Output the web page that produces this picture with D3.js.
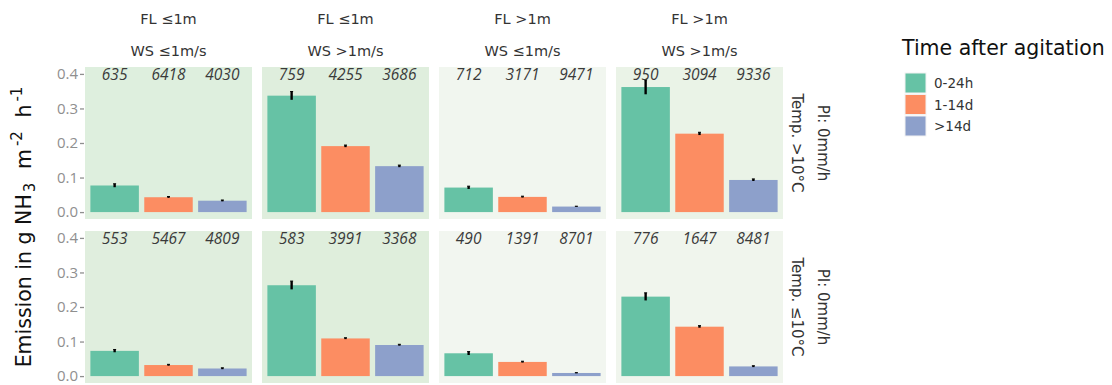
<!DOCTYPE html>
<html>
<head>
<meta charset="utf-8">
<script src="https://cdn.jsdelivr.net/npm/d3@7"></script>
<style>
  html, body { margin: 0; padding: 0; background: #ffffff; }
  svg { display: block; }
</style>
</head>
<body>
<svg id="chart" width="1112" height="385"></svg>
<script>
// ---------------- data ----------------
const flLabels = ["FL \u22641m", "FL \u22641m", "FL >1m", "FL >1m"];
const wsLabels = ["WS \u22641m/s", "WS >1m/s", "WS \u22641m/s", "WS >1m/s"];
const tempLabels = ["Temp. >10\u00b0C", "Temp. \u226410\u00b0C"];
const piLabels = ["PI: 0mm/h", "PI: 0mm/h"];
const times = ["0-24h", "1-14d", ">14d"];
const colors = ["#66c2a5", "#fc8d62", "#8da0cb"];
const yTicks = [0.0, 0.1, 0.2, 0.3, 0.4];

// emission means per panel (row 1: Temp >10°C, row 2: Temp ≤10°C)
const emissionRow1 = [
  [0.077, 0.043, 0.033],
  [0.337, 0.191, 0.133],
  [0.071, 0.044, 0.016],
  [0.362, 0.227, 0.093]
];
const emissionRow2 = [
  [0.073, 0.032, 0.022],
  [0.263, 0.109, 0.090],
  [0.066, 0.041, 0.009],
  [0.230, 0.143, 0.028]
];
// half-widths of error bars
const errorRow1 = [
  [0.005, 0.002, 0.002],
  [0.012, 0.003, 0.003],
  [0.004, 0.002, 0.001],
  [0.021, 0.004, 0.003]
];
const errorRow2 = [
  [0.004, 0.002, 0.002],
  [0.012, 0.002, 0.002],
  [0.005, 0.002, 0.001],
  [0.011, 0.003, 0.002]
];
// number of observations per bar
const countsRow1 = [
  [635, 6418, 4030],
  [759, 4255, 3686],
  [712, 3171, 9471],
  [950, 3094, 9336]
];
const countsRow2 = [
  [553, 5467, 4809],
  [583, 3991, 3368],
  [490, 1391, 8701],
  [776, 1647, 8481]
];
const panelBgRow1 = ["#deefde", "#dfeedd", "#f1f6ef", "#eaf3e7"];
const panelBgRow2 = ["#e0eede", "#dfeedc", "#f2f6f0", "#f0f5ed"];

const rows = [
  { emission: emissionRow1, error: errorRow1, counts: countsRow1, bg: panelBgRow1 },
  { emission: emissionRow2, error: errorRow2, counts: countsRow2, bg: panelBgRow2 }
];

// ---------------- layout ----------------
const svg = d3.select("#chart");
const font = "'Open Sans', sans-serif";
const font2 = "'DejaVu Sans', sans-serif";

const xPanel = d3.scaleBand().domain(d3.range(4)).range([85, 783]).paddingInner(0.0565);
const rowTops = [67, 231];
const panelH = 152;
const xInner = d3.scaleBand().domain(times).range([0, xPanel.bandwidth()])
  .paddingInner(0.1).paddingOuter(0.1);

rows.forEach((row, r) => {
  const y = d3.scaleLinear().domain([-0.02, 0.42]).range([rowTops[r] + panelH, rowTops[r]]);

  // y axis
  const axis = d3.axisLeft(y).tickValues(yTicks).tickFormat(d3.format(".1f")).tickSize(4).tickPadding(2);
  const ga = svg.append("g").attr("transform", `translate(${xPanel(0) - 1},0)`).call(axis);
  ga.select(".domain").remove();
  ga.selectAll(".tick line").attr("stroke", "#8f8f8f").attr("stroke-width", 1.3);
  ga.selectAll(".tick text").attr("fill", "#8f8f8f").style("font-family", font).style("font-size", "15px");

  for (let c = 0; c < 4; c++) {
    const g = svg.append("g").attr("transform", `translate(${xPanel(c)},0)`);
    g.append("rect").attr("x", 0).attr("y", rowTops[r]).attr("width", xPanel.bandwidth())
      .attr("height", panelH).attr("fill", row.bg[c]);

    times.forEach((t, i) => {
      const v = row.emission[c][i];
      const cx = xInner(t) + xInner.bandwidth() / 2;
      g.append("rect")
        .attr("x", xInner(t)).attr("width", xInner.bandwidth())
        .attr("y", y(v)).attr("height", y(0) - y(v))
        .attr("fill", colors[i]);
      const e = row.error[c][i];
      g.append("line")
        .attr("x1", cx).attr("x2", cx)
        .attr("y1", y(v - e)).attr("y2", y(v + e))
        .attr("stroke", "#000").attr("stroke-width", 2.4);
      g.append("line")
        .attr("x1", cx - 1.5).attr("x2", cx + 1.5)
        .attr("y1", y(v + e)).attr("y2", y(v + e))
        .attr("stroke", "#000").attr("stroke-width", 1);
      g.append("text")
        .attr("x", cx).attr("y", y(0.4))
        .attr("text-anchor", "middle").attr("dominant-baseline", "central")
        .style("font-family", font).style("font-size", "15.5px").style("font-style", "italic")
        .attr("fill", "#3a3a3a")
        .text(row.counts[c][i]);
    });
  }

  // right strip
  const cy = rowTops[r] + panelH / 2;
  svg.append("text").attr("transform", `translate(797,${cy}) rotate(90)`)
    .attr("text-anchor", "middle").attr("dominant-baseline", "central")
    .style("font-family", font2).style("font-size", "15px").attr("fill", "#333")
    .text(tempLabels[r]);
  svg.append("text").attr("transform", `translate(823,${cy}) rotate(90)`)
    .attr("text-anchor", "middle").attr("dominant-baseline", "central")
    .style("font-family", font2).style("font-size", "15px").attr("fill", "#333")
    .text(piLabels[r]);
});

// top strips
for (let c = 0; c < 4; c++) {
  const cx = xPanel(c) + xPanel.bandwidth() / 2;
  svg.append("text").attr("x", cx).attr("y", 24).attr("text-anchor", "middle")
    .style("font-family", font2).style("font-size", "14.5px")
    .attr("fill", "#333").text(flLabels[c]);
  svg.append("text").attr("x", cx).attr("y", 56).attr("text-anchor", "middle")
    .style("font-family", font2).style("font-size", "14.5px")
    .attr("fill", "#333").text(wsLabels[c]);
}

// y axis title
const yt = svg.append("text").attr("transform", "translate(31,227) rotate(-90)")
  .attr("text-anchor", "middle")
  .style("font-family", font2).style("font-size", "20.5px").attr("fill", "#111");
yt.append("tspan").text("Emission in g NH");
yt.append("tspan").attr("dx", 2).attr("baseline-shift", "-25%").style("font-size", "15px").text("3");
yt.append("tspan").attr("dx", 7).text(" m");
yt.append("tspan").attr("dx", 3).attr("baseline-shift", "super").style("font-size", "15px").text("-2");
yt.append("tspan").attr("dx", 7).text(" h");
yt.append("tspan").attr("dx", 3).attr("baseline-shift", "super").style("font-size", "15px").text("-1");

// legend
const lg = svg.append("g");
lg.append("text").attr("x", 902).attr("y", 55)
  .style("font-family", font2).style("font-size", "20.5px").attr("fill", "#111")
  .text("Time after agitation");
times.forEach((t, i) => {
  lg.append("rect").attr("x", 905).attr("y", 73 + i * 21.5).attr("width", 21).attr("height", 20)
    .attr("fill", colors[i]).attr("stroke", "#f2f2f2").attr("stroke-width", 1);
  lg.append("text").attr("x", 934).attr("y", 83 + i * 21.5).attr("dominant-baseline", "central")
    .style("font-family", font2).style("font-size", "13.5px").attr("fill", "#333").text(t);
});
</script>
</body>
</html>
